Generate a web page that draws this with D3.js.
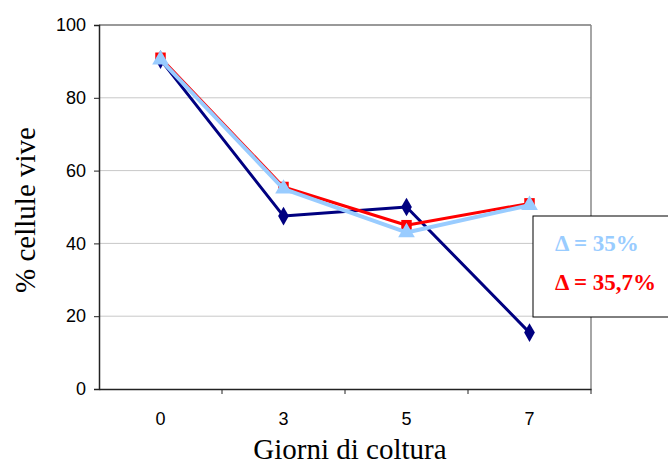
<!DOCTYPE html>
<html>
<head>
<meta charset="utf-8">
<script src="https://d3js.org/d3.v7.min.js"></script>
<style>
  body { margin: 0; background: #fff; }
</style>
</head>
<body>
<div id="chart"></div>
<script>
// data
var days = ["0", "3", "5", "7"];
var seriesNavy = [90.5, 47.5, 50, 15.5];
var seriesRed = [91, 55.5, 45, 51];
var seriesBlue = [90.5, 55, 43, 50.5];
var yTicks = [0, 20, 40, 60, 80, 100];
var notes = ["\u0394 = 35%", "\u0394 = 35,7%"];

var W = 668, H = 468;
var m = { left: 99, right: 77, top: 25, bottom: 79 };
var w = W - m.left - m.right, h = H - m.top - m.bottom;
var serif = "'Liberation Serif', 'Times New Roman', serif";
var sans = "Arial, 'Liberation Sans', sans-serif";

var svg = d3.select("#chart").append("svg")
    .attr("width", W).attr("height", H);
var g = svg.append("g").attr("transform", "translate(" + m.left + "," + m.top + ")");

var x = d3.scaleBand().domain(days).range([0, w]);
var y = d3.scaleLinear().domain([0, 100]).range([h, 0]);

// gridlines
g.append("g").selectAll("line")
    .data(yTicks.filter(function (d) { return d > 0 && d < 100; }))
    .enter().append("line")
    .attr("x1", 0).attr("x2", w)
    .attr("y1", y).attr("y2", y)
    .attr("stroke", "#c8c8c8").attr("stroke-width", 1);

// top and right frame
g.append("line").attr("x1", 0).attr("x2", w).attr("y1", 0).attr("y2", 0)
    .attr("stroke", "#999").attr("stroke-width", 2);
g.append("line").attr("x1", w).attr("x2", w).attr("y1", 0).attr("y2", h)
    .attr("stroke", "#888").attr("stroke-width", 1.5);

// axes
var yAxis = g.append("g")
    .call(d3.axisLeft(y).tickValues(yTicks).tickSize(5).tickPadding(8));
yAxis.select(".domain").attr("stroke", "#222").attr("stroke-width", 1.5);
yAxis.selectAll(".tick line").attr("stroke", "#222");
yAxis.selectAll("text").style("font-family", sans).style("font-size", "18px").attr("fill", "#000");

var xAxis = g.append("g").attr("transform", "translate(0," + h + ")")
    .call(d3.axisBottom(x).tickSize(0).tickPadding(23));
xAxis.select(".domain").attr("stroke", "#222").attr("stroke-width", 1.5);
xAxis.selectAll("text").style("font-family", sans).style("font-size", "18px").attr("fill", "#000");
// ticks between categories
xAxis.selectAll(".sep")
    .data(days)
    .enter().append("line")
    .attr("x1", function (d) { return x(d) + x.bandwidth(); })
    .attr("x2", function (d) { return x(d) + x.bandwidth(); })
    .attr("y1", 0).attr("y2", 5)
    .attr("stroke", "#222");

// axis titles
svg.append("text")
    .attr("x", m.left + w / 2 + 5).attr("y", 459)
    .attr("text-anchor", "middle")
    .style("font-family", serif)
    .style("font-size", "29px")
    .text("Giorni di coltura");
svg.append("text")
    .attr("transform", "translate(35," + (m.top + h / 2 + 3) + ") rotate(-90)")
    .attr("text-anchor", "middle")
    .style("font-family", serif)
    .style("font-size", "29px")
    .text("% cellule vive");

var line = d3.line()
    .x(function (d, i) { return x(days[i]) + x.bandwidth() / 2; })
    .y(function (d) { return y(d); });

function drawSeries(vals, color, width, shape, size) {
    var s = g.append("g");
    s.append("path").datum(vals)
        .attr("d", line)
        .attr("fill", "none")
        .attr("stroke", color)
        .attr("stroke-width", width)
        .attr("stroke-linejoin", "round");
    s.selectAll("path.m").data(vals).enter().append("path")
        .attr("class", "m")
        .attr("d", d3.symbol().type(shape).size(size))
        .attr("transform", function (d, i) {
            return "translate(" + (x(days[i]) + x.bandwidth() / 2) + "," + y(d) + ")";
        })
        .attr("fill", color);
}

drawSeries(seriesNavy, "#000080", 3, d3.symbolDiamond, 100);
drawSeries(seriesRed, "#ff0000", 3, d3.symbolSquare, 110);
drawSeries(seriesBlue, "#99ccff", 4, d3.symbolTriangle, 120);

// annotation box
var box = svg.append("g");
box.append("rect")
    .attr("x", 533).attr("y", 216).attr("width", 150).attr("height", 101)
    .attr("fill", "#fff").attr("stroke", "#000").attr("stroke-width", 1);
box.selectAll("text").data(notes).enter().append("text")
    .attr("x", 555)
    .attr("y", function (d, i) { return 251 + i * 39; })
    .attr("fill", function (d, i) { return i === 0 ? "#99ccff" : "#ff0000"; })
    .style("font-family", serif)
    .style("font-weight", "bold")
    .style("font-size", "23px")
    .text(function (d) { return d; });
</script>
</body>
</html>
